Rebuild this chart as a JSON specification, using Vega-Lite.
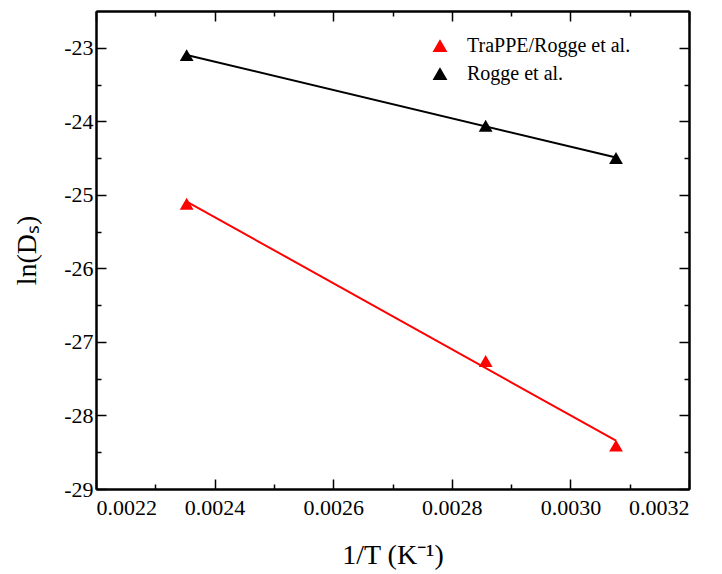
{
  "$schema": "https://vega.github.io/schema/vega-lite/v6.json",
  "width": 593,
  "height": 478,
  "autosize": "none",
  "padding": {"left": 96, "top": 11, "right": 33, "bottom": 85},
  "background": "white",
  "config": {
    "font": "Liberation Serif",
    "view": {"stroke": null},
    "axis": {
      "grid": false,
      "domainColor": "black",
      "domainWidth": 2,
      "tickColor": "black",
      "tickWidth": 1.5,
      "labelFont": "Liberation Serif",
      "labelFontSize": 22,
      "labelColor": "black",
      "titleFont": "Liberation Serif",
      "titleFontSize": 28,
      "titleFontWeight": "normal",
      "titleColor": "black"
    }
  },
  "data": {
    "values": [
      {"invT": 0.0023529, "lnD": -23.10, "series": "Rogge et al."},
      {"invT": 0.0028571, "lnD": -24.06, "series": "Rogge et al."},
      {"invT": 0.0030769, "lnD": -24.50, "series": "Rogge et al."},
      {"invT": 0.0023529, "lnD": -25.12, "series": "TraPPE/Rogge et al."},
      {"invT": 0.0028571, "lnD": -27.26, "series": "TraPPE/Rogge et al."},
      {"invT": 0.0030769, "lnD": -28.41, "series": "TraPPE/Rogge et al."}
    ]
  },
  "layer": [
    {
      "mark": {"type": "point", "shape": "triangle-up", "filled": true, "size": 190, "opacity": 1},
      "encoding": {
        "x": {
          "field": "invT", "type": "quantitative",
          "scale": {"domain": [0.0022, 0.0032], "nice": false, "zero": false},
          "axis": {
            "orient": "bottom",
            "values": [0.0022, 0.0024, 0.0026, 0.0028, 0.0030, 0.0032],
            "labelExpr": "format(datum.value, '.4f')",
            "labelFont": "Liberation Serif",
            "labelFontSize": 22,
            "tickSize": -10,
            "labelPadding": 18,
            "title": "1/T (K⁻¹)",
            "titlePadding": 23
          }
        },
        "y": {
          "field": "lnD", "type": "quantitative",
          "scale": {"domain": [-29, -22.5], "nice": false, "zero": false},
          "axis": {
            "orient": "left",
            "values": [-29, -28, -27, -26, -25, -24, -23],
            "labelExpr": "'' + datum.value",
            "labelFont": "Liberation Serif",
            "labelFontSize": 22,
            "tickSize": -10,
            "labelPadding": 13,
            "title": "ln(Dₛ)",
            "titlePadding": 22
          }
        },
        "color": {
          "field": "series", "type": "nominal",
          "scale": {"domain": ["TraPPE/Rogge et al.", "Rogge et al."], "range": ["#ff0000", "#000000"]},
          "legend": {
            "orient": "none",
            "legendX": 334,
            "legendY": 25,
            "title": null,
            "symbolType": "triangle-up",
            "symbolSize": 150,
            "labelFont": "Liberation Serif",
            "labelFontSize": 20,
            "labelColor": "black",
            "labelLimit": 400,
            "labelOffset": 17,
            "rowPadding": 8
          }
        }
      }
    },
    {
      "transform": [{"regression": "lnD", "on": "invT", "groupby": ["series"]}],
      "mark": {"type": "line", "strokeWidth": 2},
      "encoding": {
        "x": {
          "field": "invT", "type": "quantitative",
          "axis": {
            "orient": "top",
            "values": [0.0022, 0.0024, 0.0026, 0.0028, 0.0030, 0.0032],
            "tickSize": -10, "labels": false, "title": null
          }
        },
        "y": {
          "field": "lnD", "type": "quantitative",
          "axis": {
            "orient": "right",
            "values": [-29, -28, -27, -26, -25, -24, -23],
            "tickSize": -10, "labels": false, "title": null
          }
        },
        "stroke": {
          "field": "series", "type": "nominal",
          "scale": {"domain": ["TraPPE/Rogge et al.", "Rogge et al."], "range": ["#ff0000", "#000000"]},
          "legend": null
        }
      }
    },
    {
      "mark": {"type": "point", "opacity": 0},
      "encoding": {
        "x": {
          "field": "invT", "type": "quantitative",
          "axis": {
            "orient": "bottom",
            "values": [0.0023, 0.0025, 0.0027, 0.0029, 0.0031],
            "tickSize": -5, "labels": false, "title": null
          }
        },
        "y": {
          "field": "lnD", "type": "quantitative",
          "axis": {
            "orient": "left",
            "values": [-28.5, -27.5, -26.5, -25.5, -24.5, -23.5],
            "tickSize": -5, "labels": false, "title": null
          }
        }
      }
    },
    {
      "mark": {"type": "point", "opacity": 0},
      "encoding": {
        "x": {
          "field": "invT", "type": "quantitative",
          "axis": {
            "orient": "top",
            "values": [0.0023, 0.0025, 0.0027, 0.0029, 0.0031],
            "tickSize": -5, "labels": false, "title": null
          }
        },
        "y": {
          "field": "lnD", "type": "quantitative",
          "axis": {
            "orient": "right",
            "values": [-28.5, -27.5, -26.5, -25.5, -24.5, -23.5],
            "tickSize": -5, "labels": false, "title": null
          }
        }
      }
    }
  ],
  "resolve": {"axis": {"x": "independent", "y": "independent"}}
}
